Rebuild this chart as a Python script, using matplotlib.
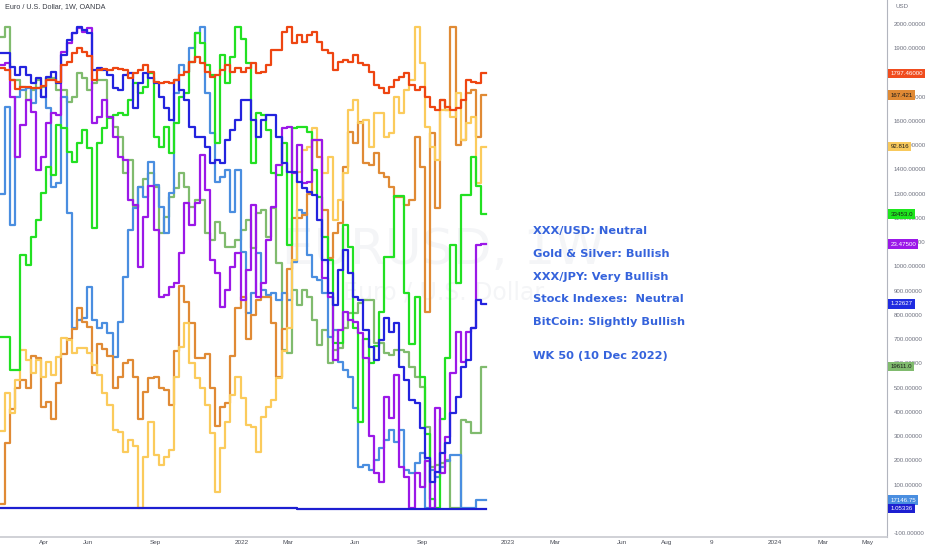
import numpy as np
import pandas as pd
import matplotlib
matplotlib.use("Agg")
import matplotlib.pyplot as plt
import matplotlib.dates as mdates

# weekly closes, all overlays rescaled onto the EUR/USD price axis
weeks = pd.date_range("2021-02-05", periods=95, freq="7D")

red = [1820, 1810, 1770, 1730, 1740, 1740, 1735, 1735, 1745, 1770,
       1770, 1760, 1830, 1845, 1880, 1900, 1885, 1870, 1770, 1810,
       1815, 1810, 1820, 1815, 1810, 1776, 1796, 1810, 1831, 1803,
       1762, 1755, 1762, 1755, 1769, 1790, 1803, 1845, 1865, 1838,
       1803, 1783, 1790, 1810, 1831, 1803, 1817, 1803, 1817, 1838,
       1796, 1803, 1831, 1893, 1893, 1968, 1989, 1920, 1955, 1927,
       1955, 1968, 1927, 1893, 1879, 1810, 1845, 1851, 1845, 1872,
       1838, 1831, 1803, 1748, 1735, 1714, 1741, 1769, 1783, 1796,
       1748, 1728, 1741, 1700, 1659, 1645, 1686, 1659, 1645, 1652,
       1686, 1769, 1762, 1755, 1797]

orange = [20, 270, 410, 500, 530, 500, 630, 620, 420, 440,
          370, 520, 640, 700, 740, 830, 770, 750, 560, 680,
          660, 630, 500, 545, 600, 614, 545, 370, 480, 540,
          545, 500, 490, 430, 650, 920, 855, 765, 620, 620,
          640, 500, 340, 420, 435, 630, 830, 875, 700, 800,
          860, 875, 875, 765, 545, 740, 990, 1200, 1200, 1210,
          1300, 1520, 1450, 1233, 1033, 1136, 1178, 1411, 1556, 1508,
          1597, 1425, 1420, 1466, 1384, 1370, 1329, 1288, 1288, 1253,
          1274, 1535, 1411, 813, 1549, 1240, 1686, 1645, 1989, 1500,
          1522, 1714, 1728, 1535, 1707]

yellow = [320, 477, 394, 531, 655, 614, 559, 614, 545, 607,
          552, 628, 703, 696, 641, 662, 662, 641, 593, 552,
          477, 428, 325, 318, 236, 284, 257, 2, 215, 360,
          222, 181, 215, 243, 545, 669, 765, 600, 538, 497,
          428, 311, 71, 250, 360, 470, 545, 456, 346, 339,
          236, 380, 421, 449, 538, 650, 745, 1027, 1391, 1480,
          1494, 1570, 1522, 1384, 1453, 1192, 1274, 1384, 1645, 1686,
          1590, 1604, 1494, 1631, 1631, 1535, 1549, 1700, 1631, 1728,
          1769, 1989, 1838, 1576, 1494, 1439, 1645, 1645, 1618, 1714,
          1522, 1590, 1618, 1343, 1494]

green = [710, 710, 573, 573, 1047, 1006, 1123, 1191, 1301, 1411,
         1377, 1583, 1570, 1473, 1432, 1508, 1563, 1487, 1157, 1508,
         1570, 1611, 1625, 1631, 1625, 1686, 1755, 1714, 1741, 1796,
         1535, 1494, 1576, 1466, 1590, 1700, 1714, 1845, 1961, 1920,
         1831, 1790, 1508, 1872, 1755, 1865, 1989, 1940, 1838, 1425,
         1631, 1625, 1563, 1384, 1377, 1508, 1088, 1570, 1576, 1576,
         1556, 1398, 1288, 1123, 1027, 683, 683, 1171, 1082, 745,
         360, 700, 600, 670, 810, 1040, 1040, 1290, 1290, 890,
         680, 875, 545, 310, 40, 5, 370, 620, 1090, 930,
         1295, 1295, 1453, 1330, 1216]

purple = [1830, 1838, 1700, 1453, 1583, 1686, 1638, 1398, 1453, 1590,
          1631, 1625, 1886, 1920, 1961, 1982, 1968, 1982, 1590, 1618,
          1686, 1618, 1535, 1453, 1440, 1274, 1253, 999, 1205, 1330,
          1150, 875, 882, 916, 930, 1054, 1260, 1171, 1260, 1460,
          1315, 1027, 972, 834, 903, 999, 1054, 861, 985, 1253,
          875, 930, 1109, 1246, 1418, 1570, 1576, 1384, 1501, 1343,
          1350, 1522, 1522, 951, 875, 614, 738, 813, 779, 772,
          724, 621, 300, 147, 112, 463, 373, 552, 174, 133,
          2, 147, 91, 195, 2, 415, 147, 298, 559, 731,
          607, 731, 745, 1088, 1092]

blue = [1879, 1879, 1824, 1790, 1824, 1790, 1755, 1776, 1700, 1783,
        1803, 1755, 1872, 1934, 1961, 1989, 1975, 1961, 1810, 1817,
        1810, 1790, 1735, 1728, 1790, 1796, 1652, 1755, 1796, 1776,
        1755, 1700, 1652, 1604, 1769, 1728, 1686, 1576, 1535, 1535,
        1494, 1425, 1439, 1425, 1522, 1563, 1604, 1686, 1686, 1604,
        1535, 1604, 1625, 1625, 1535, 1425, 1391, 1391, 1350, 1322,
        1308, 1295, 1192, 1027, 889, 841, 985, 1068, 972, 875,
        861, 738, 669, 614, 696, 786, 731, 765, 586, 531,
        449, 435, 332, 208, 112, 153, 229, 270, 394, 463,
        586, 614, 745, 861, 845]

steel = [1300, 1659, 1171, 1700, 1728, 1735, 1673, 1735, 1700, 1652,
         1329, 1343, 1700, 1219, 745, 779, 786, 916, 779, 745,
         765, 724, 628, 772, 958, 1150, 1240, 1329, 1288, 1432,
         1336, 1246, 1136, 1301, 1714, 1831, 1803, 1900, 1961, 1989,
         1714, 1549, 1350, 1370, 1398, 1226, 1398, 1060, 806, 889,
         1054, 903, 882, 889, 861, 889, 861, 1020, 1233, 1219,
         1047, 958, 944, 889, 710, 738, 607, 573, 545, 415,
         174, 181, 160, 201, 250, 284, 325, 277, 325, 160,
         147, 188, 229, 2, 160, 133, 174, 195, 222, 222,
         2, 2, 2, 36, 36]

olive = [1948, 1989, 1769, 1769, 1741, 1686, 1728, 1769, 1741, 1776,
         1776, 1728, 1728, 1680, 1700, 1796, 1776, 1728, 1755, 1769,
         1769, 1618, 1576, 1535, 1384, 1440, 1246, 1329, 1360, 1384,
         1329, 1136, 1205, 1288, 1322, 1384, 1329, 1246, 1274, 1274,
         1136, 1109, 1185, 1136, 1082, 1082, 1109, 1150, 1192, 1075,
         1219, 1233, 1123, 1240, 1013, 655, 641, 903, 841, 903,
         875, 779, 676, 738, 600, 655, 662, 745, 806, 806,
         848, 861, 861, 683, 683, 641, 635, 655, 655, 648,
         586, 545, 504, 339, 174, 181, 188, 201, 2, 2,
         367, 360, 311, 311, 586]

eurusd = [1.21, 1.21, 1.21, 1.19, 1.19, 1.19, 1.18, 1.17, 1.18, 1.19,
          1.20, 1.21, 1.20, 1.22, 1.21, 1.22, 1.22, 1.21, 1.21, 1.19,
          1.19, 1.18, 1.18, 1.18, 1.19, 1.18, 1.18, 1.18, 1.18, 1.19,
          1.18, 1.17, 1.16, 1.16, 1.16, 1.16, 1.16, 1.16, 1.14, 1.13,
          1.13, 1.13, 1.13, 1.13, 1.13, 1.14, 1.14, 1.13, 1.14, 1.14,
          1.13, 1.13, 1.12, 1.09, 1.09, 1.10, 1.10, 1.09, 1.08, 1.08,
          1.05, 1.05, 1.04, 1.06, 1.07, 1.07, 1.05, 1.05, 1.06, 1.02,
          1.00, 1.01, 1.02, 1.02, 1.03, 1.00, 0.99, 1.00, 0.99, 1.00,
          0.97, 0.97, 0.97, 0.99, 0.99, 1.02, 1.03, 1.03, 1.04, 1.05,
          1.05, 1.04, 1.04, 1.05, 1.05336]

# last-value tags on the price scale
last_labels = ["1797.46000", "167.421", "92.816", "33453.0", "23.47500",
               "1.22627", "19611.0", "17146.75", "1.05336"]

notes = ["XXX/USD: Neutral", "Gold & Silver: Bullish", "XXX/JPY: Very Bullish",
         "Stock Indexes:  Neutral", "BitCoin: Slightly Bullish", "WK 50 (10 Dec 2022)"]

tick_dates = ["2021-04-06", "2021-06-06", "2021-09-06", "2022-01-01", "2022-03-06",
              "2022-06-06", "2022-09-06", "2023-01-01", "2023-03-06", "2023-06-06",
              "2023-08-06", "2023-10-06", "2024-01-01", "2024-03-06", "2024-05-06"]
tick_labels = ["Apr", "Jun", "Sep", "2022", "Mar", "Jun", "Sep", "2023", "Mar",
               "Jun", "Aug", "9", "2024", "Mar", "May"]

# (values, line colour, tag colour, tag text colour, tag text)
series = [
    (olive, "#80bb6e", "#80bb6e", "#1a1a1a", last_labels[6]),
    (steel, "#4a8ee0", "#4a8ee0", "white", last_labels[7]),
    (orange, "#e08a35", "#e08a35", "#1a1a1a", last_labels[1]),
    (yellow, "#fbcb5c", "#f8c95c", "#1a1a1a", last_labels[2]),
    (green, "#22e022", "#1ee61e", "#1a1a1a", last_labels[3]),
    (purple, "#9b18e8", "#9b18e8", "white", last_labels[4]),
    (blue, "#2323de", "#1f2be0", "white", last_labels[5]),
    (red, "#ee4511", "#f04c1e", "white", last_labels[0]),
    (eurusd, "#1d1fd1", "#1d1fd1", "white", last_labels[8]),
]

W, H = 932, 550
fig = plt.figure(figsize=(W / 100, H / 100), dpi=100)
ax = fig.add_axes([0, 13 / H, 887 / W, 537 / H])

xs = list(weeks) + [weeks[-1] + pd.Timedelta(days=7)]

# faint symbol watermark
ax.text(0.5, 0.534, "EURUSD, 1W", transform=ax.transAxes, ha="center", va="center",
        fontsize=36, color="#f4f5f7", zorder=0)
ax.text(0.5, 0.456, "Euro / U.S. Dollar", transform=ax.transAxes, ha="center", va="center",
        fontsize=17, color="#f4f5f7", zorder=0)

for vals, col, tagcol, txtcol, tag in series:
    ys = list(vals) + [vals[-1]]
    ax.step(xs, ys, where="post", color=col, lw=1.6, zorder=2)

ax.set_xlim(pd.Timestamp("2021-02-05"), pd.Timestamp("2024-06-02"))
ax.set_ylim(-116.5, 2099)

ax.yaxis.tick_right()
ax.set_yticks(np.arange(-100, 2001, 100))
ax.set_yticklabels([f"{v:.5f}" for v in np.arange(-100, 2001, 100)])
ax.tick_params(axis="y", length=0, pad=5, labelsize=4.4, labelcolor="#6f7280")
ax.set_xticks([mdates.date2num(pd.Timestamp(d)) for d in tick_dates])
ax.set_xticklabels(tick_labels)
ax.tick_params(axis="x", length=0, pad=2, labelsize=4.6, labelcolor="#4a4d57")
for lab in ax.get_xticklabels() + ax.get_yticklabels():
    lab.set_family("Liberation Sans")

for side in ["top", "left"]:
    ax.spines[side].set_visible(False)
ax.spines["right"].set_color("#b2b5be")
ax.spines["bottom"].set_color("#c8cad0")
ax.spines["bottom"].set_linewidth(1.2)

# value tags on the right scale
for vals, col, tagcol, txtcol, tag in series:
    ax.annotate(tag, xy=(1.0, vals[-1]), xycoords=("axes fraction", "data"),
                xytext=(2.5, 0), textcoords="offset points", ha="left", va="center",
                fontsize=4.4, family="Liberation Sans", color=txtcol, annotation_clip=False,
                bbox=dict(boxstyle="square,pad=0.35", fc=tagcol, ec="none"), zorder=5)

fig.text(895 / W, 1 - 6 / H, "USD", fontsize=4.4, family="Liberation Sans",
         color="#6f7280", va="center", ha="left")
fig.text(5 / W, 1 - 7 / H, "Euro / U.S. Dollar, 1W, OANDA", fontsize=5.2,
         family="Liberation Sans", color="#3a3d46", va="center", ha="left")

note_y = [231, 254, 277, 299, 322, 356]
for txt, yp in zip(notes, note_y):
    ax.text(533 / 887, 1 - yp / 537, txt, transform=ax.transAxes, ha="left", va="center",
            fontsize=8.2, fontweight="bold", color="#3563dc", zorder=6)

fig.savefig("out.png", dpi=100)
